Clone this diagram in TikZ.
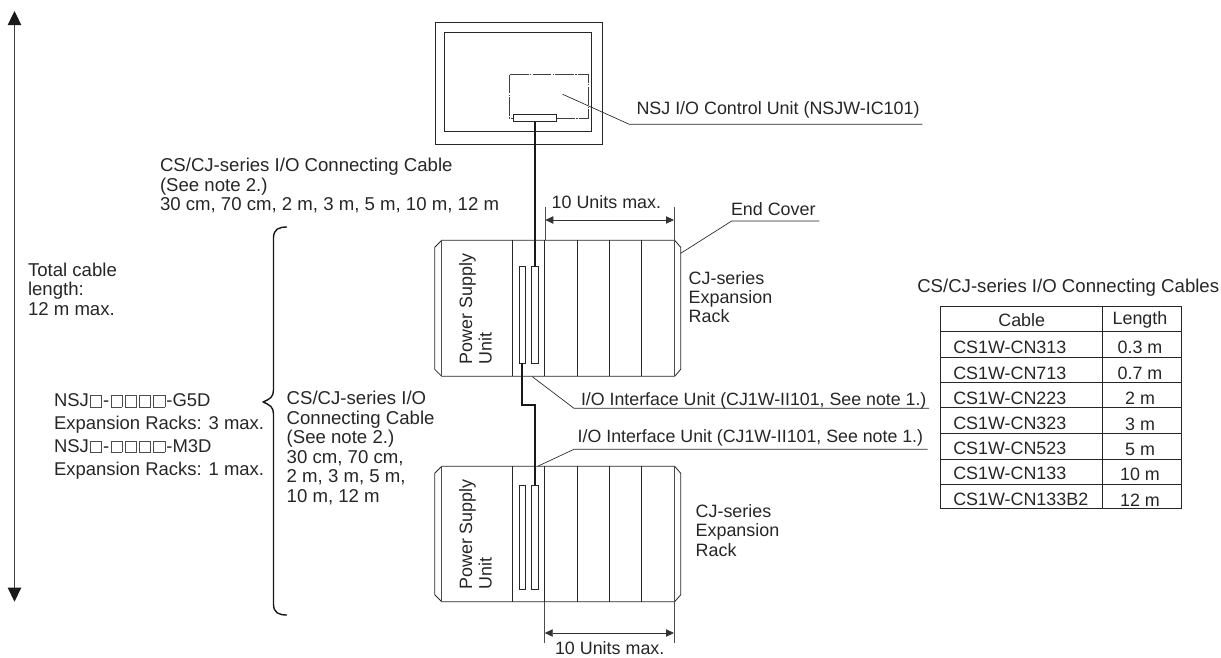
\documentclass[tikz,border=0pt]{standalone}
\usepackage{fontspec}
\setmainfont{Liberation Sans}
\usetikzlibrary{arrows.meta}
\setlength{\fboxsep}{0pt}
\setlength{\fboxrule}{0.35pt}
\newcommand{\sqb}{\kern0.9pt\textcolor{black!70}{\fbox{\vrule width 0pt height 8.4pt\hspace{8.2pt}}}\kern0.9pt}
\tikzset{
  x=0.75pt,y=-0.75pt,
  txt/.style={inner sep=0pt,outer sep=0pt,anchor=base west,align=left,font=\fontsize{13.42}{14.5}\selectfont,text=black!85},
  big/.style={txt,font=\fontsize{13.95}{14.6}\selectfont},
  mid/.style={txt,anchor=base,align=center},
  ln/.style={line width=0.6pt,draw=black!85},
  thin ln/.style={line width=0.5pt,draw=black!70},
  thick ln/.style={line width=1.5pt,draw=black!90},
  dim/.style={line width=0.6pt,draw=black!80,{Triangle[length=6pt,width=5.5pt]}-{Triangle[length=6pt,width=5.5pt]}},
  slotbox/.style={line width=0.6pt,draw=black!85,fill=white,inner sep=0pt,outer sep=0pt,anchor=north west},
}
\newcommand{\rack}[3]{% name, top, bottom
  \draw[ln] (441.7,#2) -- (674.7,#2) -- (680.7,#2+7) -- (680.7,#3-7) -- (674.7,#3) -- (441.7,#3) -- (434.7,#3-7) -- (434.7,#2+7) -- cycle;
  \draw[thin ln] (441.7,#2) -- (441.7,#3);
  \draw[thin ln] (674,#2) -- (674,#3);
  \foreach \xx in {512.3,544.7,577.3,609.3,641.7} \draw[ln] (\xx,#2) -- (\xx,#3);
  \node[txt,rotate=90] (#1psu) at (491.5,#3-12) {Power Supply\\Unit};
}
\begin{document}
\begin{tikzpicture}
\useasboundingbox (0,0) rectangle (1221,657);
% display
\node[draw=black!85,line width=0.7pt,minimum width=167pt*0.75,minimum height=122pt*0.75,inner sep=0pt,anchor=north west] (outer) at (434.7,21.7) {};
\node[draw=black!85,line width=0.7pt,minimum width=147pt*0.75,minimum height=99pt*0.75,inner sep=0pt,anchor=north west] (inner) at (443.7,31.7) {};
\draw[black!75,line width=0.5pt,dash pattern=on 14pt off 1pt on 1pt off 1pt] (509.3,74.7) rectangle (588.7,118.3);
\node[slotbox,minimum width=43.4pt*0.75,minimum height=7.4pt*0.75] (iocon) at (513.3,114.3) {};
\coordinate (leadA) at (562.7,94.3);
\coordinate (leadB) at (629.3,124.3);
\coordinate (leadC) at (922.3,124.3);
\draw[thin ln,draw=black!85] (leadA) -- (leadB) -- (leadC);
\node[txt] (ioctl) at (636.5,114.8) {NSJ I/O Control Unit (NSJW-IC101)};
% racks
\rack{ra}{240.3}{376.3}
\rack{rb}{466.3}{601.7}
\node[slotbox,minimum width=6.7pt*0.75,minimum height=96.6pt*0.75] (s1) at (519,266.7) {};
\node[slotbox,minimum width=7.4pt*0.75,minimum height=96.6pt*0.75] (s2) at (531.3,266.7) {};
\node[slotbox,minimum width=6.7pt*0.75,minimum height=104pt*0.75] (s3) at (519,485.3) {};
\node[slotbox,minimum width=7.4pt*0.75,minimum height=104pt*0.75] (s4) at (531.3,485.3) {};
% cables
\coordinate (bendA) at (521.7,404.7);
\coordinate (bendB) at (535.3,404.7);
\draw[thick ln] (iocon.south -| 535.3,0) -- (s2.north -| 535.3,0);
\draw[thick ln] (s1.south -| bendA) -- (bendA) -- (bendB) -- (s4.north -| bendB);
% dims top
\coordinate (t1a) at (545.3,207.3); \coordinate (t1b) at (545.3,240.3);
\coordinate (t2a) at (674,207.3); \coordinate (t2b) at (674,240.3);
\draw[thin ln] (t1a) -- (t1b); \draw[thin ln] (t2a) -- (t2b);
\draw[dim] (545.3,220) -- (674,220);
\node[txt] (ua) at (551.7,208.3) {10 Units max.};
% dims bottom
\coordinate (b1a) at (544.7,601.7); \coordinate (b1b) at (544.7,643);
\coordinate (b2a) at (674,601.7); \coordinate (b2b) at (674,643);
\draw[thin ln] (b1a) -- (b1b); \draw[thin ln] (b2a) -- (b2b);
\draw[dim] (544.7,633) -- (674,633);
\node[txt] (ub) at (555,654.5) {10 Units max.};
% End cover
\coordinate (ecA) at (680.7,253.3); \coordinate (ecB) at (731.7,221); \coordinate (ecC) at (819.3,221);
\draw[thin ln,draw=black!85] (ecA) -- (ecB) -- (ecC);
\node[txt] (ec) at (731,215) {End Cover};
% Interface leaders
\coordinate (ifA) at (532.3,376.7); \coordinate (ifB) at (574,408.3); \coordinate (ifC) at (929,408.3);
\draw[thin ln,draw=black!85] (ifA) -- (ifB) -- (ifC);
\node[txt,font=\fontsize{13.33}{14.5}\selectfont] (ifa) at (581,405) {I/O Interface Unit (CJ1W-II101, See note 1.)};
\coordinate (igA) at (538.3,466); \coordinate (igB) at (574,449.3); \coordinate (igC) at (927.7,449.3);
\draw[thin ln,draw=black!85] (igA) -- (igB) -- (igC);
\node[txt,font=\fontsize{13.33}{14.5}\selectfont] (ifb) at (577.7,442) {I/O Interface Unit (CJ1W-II101, See note 1.)};
% rack labels
\node[txt] (la) at (688.7,322.7) {CJ-series\\Expansion\\Rack};
\node[txt] (lb) at (695.7,556) {CJ-series\\Expansion\\Rack};
% left
\coordinate (arT) at (14.5,11); \coordinate (arB) at (14.5,601.7);
\draw[line width=0.75pt,draw=black!75,{Triangle[length=10.5pt,width=10pt,color=black!90]}-{Triangle[length=10.5pt,width=10pt,color=black!90]}] (arT) -- (arB);
\node[big] (tot) at (28,315) {Total cable\\length:\\12 m max.};
\node[big,font=\fontsize{13.85}{17.1}\selectfont] (exp) at (54,475) {NSJ\sqb-\sqb\sqb\sqb\sqb-G5D\\Expansion Racks: 3 max.\\NSJ\sqb-\sqb\sqb\sqb\sqb-M3D\\Expansion Racks: 1 max.};
\coordinate (brT) at (287,227); \coordinate (brM) at (263,402); \coordinate (brB) at (287,615);
\draw[line width=1.05pt,black!90,line join=round] (brT) .. controls (279,227) and (273.5,229) .. (273.5,238) -- (273.5,390) .. controls (273.5,397) and (270,399) .. (brM) .. controls (270,405) and (273.5,407) .. (273.5,414) -- (273.5,604) .. controls (273.5,613) and (279,615) .. (brB);
\node[big] (cs2) at (286.7,502) {CS/CJ-series I/O\\Connecting Cable\\(See note 2.)\\30 cm, 70 cm,\\2 m, 3 m, 5 m,\\10 m, 12 m};
\node[big] (cs1) at (160,210.7) {CS/CJ-series I/O Connecting Cable\\(See note 2.)\\30 cm, 70 cm, 2 m, 3 m, 5 m, 10 m, 12 m};
% table
\node[big] (ttl) at (917.3,292.7) {CS/CJ-series I/O Connecting Cables};
\node[draw=black!85,line width=0.7pt,minimum width=240.7pt*0.75,minimum height=202pt*0.75,inner sep=0pt,anchor=north west] (tbl) at (940.3,305.7) {};
\coordinate (colT) at (1102.3,305.7); \coordinate (colB) at (1102.3,507.7);
\draw[ln] (colT) -- (colB);
\foreach \yy in {331.3,357,382.3,407.7,433.3,459,484.3} \draw[ln] (940.3,\yy) -- (1181,\yy);
\node[mid] (h1) at (1021.7,326) {Cable};
\node[mid] (h2) at (1140,324) {Length};
\node[txt] (c1) at (953.3,353.3) {CS1W-CN313};
\node[txt] (c2) at (953.3,379) {CS1W-CN713};
\node[txt] (c3) at (953.3,404.3) {CS1W-CN223};
\node[txt] (c4) at (953.3,429.3) {CS1W-CN323};
\node[txt] (c5) at (953.3,454.3) {CS1W-CN523};
\node[txt] (c6) at (953.3,479.3) {CS1W-CN133};
\node[txt] (c7) at (953.3,505) {CS1W-CN133B2};
\node[mid] (l1) at (1140,353.3) {0.3 m};
\node[mid] (l2) at (1140,379.3) {0.7 m};
\node[mid] (l3) at (1140,404) {2 m};
\node[mid] (l4) at (1140,430) {3 m};
\node[mid] (l5) at (1140,455.3) {5 m};
\node[mid] (l6) at (1140,480.3) {10 m};
\node[mid] (l7) at (1140,506) {12 m};
\end{tikzpicture}
\end{document}
